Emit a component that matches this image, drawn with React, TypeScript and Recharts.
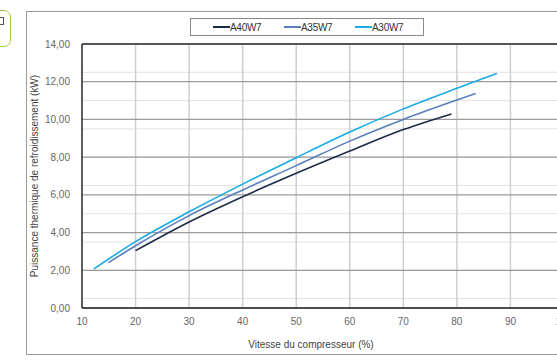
import React from "react";
import {
  LineChart,
  Line,
  XAxis,
  YAxis,
  CartesianGrid,
  ReferenceLine,
  Label,
} from "recharts";

// compressor speed (%) -> cooling power (kW)
const a40w7 = [
  { x: 20, y: 3.04 },
  { x: 30, y: 4.56 },
  { x: 40, y: 5.9 },
  { x: 50, y: 7.14 },
  { x: 60, y: 8.32 },
  { x: 70, y: 9.46 },
  { x: 79, y: 10.29 },
];
const a35w7 = [
  { x: 14.9, y: 2.4 },
  { x: 20, y: 3.3 },
  { x: 30, y: 4.9 },
  { x: 40, y: 6.26 },
  { x: 50, y: 7.55 },
  { x: 60, y: 8.85 },
  { x: 70, y: 10.0 },
  { x: 80, y: 11.03 },
  { x: 83.5, y: 11.38 },
];
const a30w7 = [
  { x: 12.2, y: 2.07 },
  { x: 20, y: 3.52 },
  { x: 30, y: 5.1 },
  { x: 40, y: 6.57 },
  { x: 50, y: 7.97 },
  { x: 60, y: 9.33 },
  { x: 70, y: 10.56 },
  { x: 80, y: 11.65 },
  { x: 87.5, y: 12.44 },
];

const xTicks = [10, 20, 30, 40, 50, 60, 70, 80, 90, 100];
const yTicks = [0, 2, 4, 6, 8, 10, 12, 14];
const yMinor = Array.from({ length: 29 }, (_, i) => i * 0.5);

const SERIES = [
  { name: "A40W7", data: a40w7, color: "#1c2b47" },
  { name: "A35W7", data: a35w7, color: "#5a7fbf" },
  { name: "A30W7", data: a30w7, color: "#17ace6" },
];

const font = "'Liberation Sans', Arial, sans-serif";

function LegendBox() {
  return (
    <div
      style={{
        position: "absolute",
        left: 190,
        top: 18,
        width: 232,
        height: 16,
        border: "1px solid #8a8a8a",
        background: "#fff",
        display: "flex",
        alignItems: "center",
        fontFamily: font,
        fontSize: 10,
        color: "#333",
        letterSpacing: -0.3,
      }}
    >
      {SERIES.map((s, i) => (
        <div
          key={s.name}
          style={{
            position: "absolute",
            left: 22 + i * 71,
            display: "flex",
            alignItems: "center",
          }}
        >
          <span
            style={{
              display: "inline-block",
              width: 17,
              height: 2,
              background: s.color,
            }}
          />
          <span>{s.name}</span>
        </div>
      ))}
    </div>
  );
}

export default function App() {
  return (
    <div
      style={{
        position: "absolute",
        left: 0,
        top: 0,
        width: 557,
        height: 360,
        overflow: "hidden",
        background: "#fff",
      }}
    >
      <div
        style={{
          position: "absolute",
          left: -20,
          top: 10,
          width: 29,
          height: 35,
          border: "1.5px solid #a6cf3c",
          borderRadius: 7,
        }}
      >
        <div
          style={{
            position: "absolute",
            left: 16,
            top: 6,
            width: 5,
            height: 6,
            border: "1px solid #555",
          }}
        />
      </div>
      <div
        style={{
          position: "absolute",
          left: 26,
          top: 11,
          width: 600,
          height: 342,
          border: "1px solid #9a9a9a",
        }}
      />
      <div style={{ position: "absolute", left: 0, top: 0 }}>
        <LineChart
          width={600}
          height={360}
          margin={{ top: 44, right: 36, left: 0, bottom: 0 }}
        >
          <CartesianGrid
            horizontalValues={yMinor}
            vertical={false}
            stroke="#e2e2e2"
            strokeWidth={1}
          />
          <CartesianGrid
            horizontal={false}
            verticalValues={xTicks}
            stroke="#cfcfcf"
            strokeWidth={1.5}
          />
          <CartesianGrid
            vertical={false}
            horizontalValues={yTicks}
            stroke="#9c9c9c"
            strokeWidth={1.2}
          />
          <XAxis
            type="number"
            dataKey="x"
            domain={[10, 100]}
            ticks={xTicks}
            height={52}
            tickLine={false}
            axisLine={{ stroke: "#222", strokeWidth: 1.5 }}
            tick={{ fill: "#666", fontSize: 10, fontFamily: font }}
            tickMargin={4}
            allowDataOverflow
          >
            <Label
              value="Vitesse du compresseur (%)"
              position="insideBottom"
              offset={12}
              dx={-12}
              style={{ fill: "#444", fontSize: 10, fontFamily: font }}
            />
          </XAxis>
          <YAxis
            type="number"
            domain={[0, 14]}
            ticks={yTicks}
            width={82}
            tickLine={false}
            axisLine={{ stroke: "#333", strokeWidth: 1.5 }}
            tick={{ fill: "#666", fontSize: 10, fontFamily: font }}
            tickFormatter={(v: number) => v.toFixed(2).replace(".", ",")}
            tickMargin={6}
          >
            <Label
              value="Puissance thermique de refroidissement (kW)"
              angle={-90}
              position="insideLeft"
              offset={34}
              style={{
                fill: "#444",
                fontSize: 10,
                fontFamily: font,
                textAnchor: "middle",
              }}
            />
          </YAxis>
          <ReferenceLine y={14} stroke="#555" strokeWidth={2} />
          {SERIES.map((s) => (
            <Line
              key={s.name}
              data={s.data}
              dataKey="y"
              name={s.name}
              type="monotone"
              stroke={s.color}
              strokeWidth={1.6}
              dot={false}
              isAnimationActive={false}
            />
          ))}
        </LineChart>
      </div>
      <LegendBox />
    </div>
  );
}
